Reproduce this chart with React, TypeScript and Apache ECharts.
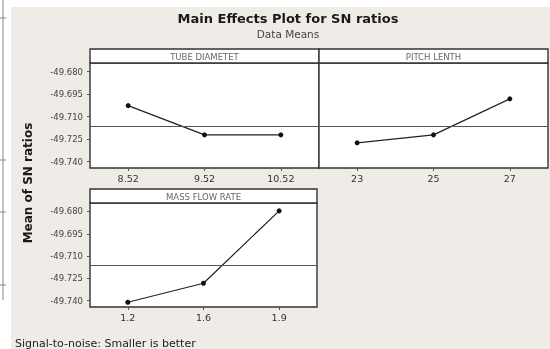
import React, { useEffect, useRef } from "react";
import * as echarts from "echarts";

const panelTitles = ["TUBE DIAMETET", "PITCH LENTH", "MASS FLOW RATE"];
const tubeDiameter = ["8.52", "9.52", "10.52"];
const pitchLength = ["23", "25", "27"];
const massFlowRate = ["1.2", "1.6", "1.9"];
const tubeSN = [-49.7027, -49.7222, -49.7222];
const pitchSN = [-49.7275, -49.7222, -49.6982];
const massSN = [-49.7411, -49.7283, -49.6796];
const overallMean = -49.7162;
const yTicks = [-49.74, -49.725, -49.71, -49.695, -49.68];
const Y_MIN = -49.7443;
const Y_MAX = -49.6743;

const FONT = "DejaVu Sans";
const BORDER = "#333333";

export default function App() {
  const ref = useRef<HTMLDivElement>(null);
  useEffect(() => {
    const chart = echarts.init(ref.current!, null, { renderer: "svg" });
    const panels = [
      { left: 90, top: 63, width: 229, height: 105, cats: tubeDiameter, data: tubeSN, showY: true },
      { left: 319, top: 63, width: 229, height: 105, cats: pitchLength, data: pitchSN, showY: false },
      { left: 90, top: 203, width: 227, height: 104, cats: massFlowRate, data: massSN, showY: true },
    ];
    const grid = panels.map((p) => ({
      left: p.left,
      top: p.top,
      width: p.width,
      height: p.height,
      show: true,
      backgroundColor: "#ffffff",
      borderColor: BORDER,
      borderWidth: 1.4,
    }));
    const xAxis = panels.map((p, i) => ({
      type: "category",
      gridIndex: i,
      data: p.cats,
      boundaryGap: true,
      axisLine: { show: false },
      axisTick: { show: true, alignWithLabel: true, length: 3, lineStyle: { color: "#555" } },
      axisLabel: { fontSize: 9.5, color: "#333", margin: 5, fontFamily: FONT },
      splitLine: { show: false },
    }));
    const yAxis = panels.map((p, i) => ({
      type: "value",
      gridIndex: i,
      min: Y_MIN,
      max: Y_MAX,
      axisLine: { show: false },
      axisTick: { show: p.showY, length: 3, customValues: yTicks, lineStyle: { color: "#555" } },
      axisLabel: {
        show: p.showY,
        customValues: yTicks,
        fontSize: 8.5,
        color: "#444",
        margin: 7,
        fontFamily: FONT,
        formatter: (v: number) => v.toFixed(3),
      },
      splitLine: { show: false },
    }));
    const series = panels.map((p, i) => ({
      type: "line",
      xAxisIndex: i,
      yAxisIndex: i,
      data: p.data,
      symbol: "circle",
      symbolSize: 5,
      itemStyle: { color: "#111" },
      lineStyle: { color: "#222", width: 1.2 },
      markLine: {
        silent: true,
        symbol: "none",
        precision: 4,
        label: { show: false },
        lineStyle: { color: "#555", width: 1, type: "solid" },
        data: [{ yAxis: overallMean }],
      },
    }));
    const headers = [
      { x: 90, y: 49, w: 229, h: 14, t: panelTitles[0] },
      { x: 319, y: 49, w: 229, h: 14, t: panelTitles[1] },
      { x: 90, y: 189, w: 227, h: 14, t: panelTitles[2] },
    ];
    const graphic: any[] = [
      { type: "rect", z: -10, shape: { x: 0, y: 0, width: 550, height: 349 }, style: { fill: "#ffffff" } },
      { type: "rect", z: -9, shape: { x: 11, y: 7, width: 539, height: 342 }, style: { fill: "#efebe6" } },
      { type: "line", shape: { x1: 3, y1: 0, x2: 3, y2: 300 }, style: { stroke: "#888", lineWidth: 1 } },
      ...[18, 160, 212, 285].map((y) => ({
        type: "line",
        shape: { x1: 0, y1: y, x2: 6, y2: y },
        style: { stroke: "#888", lineWidth: 1 },
      })),
      ...headers.map((h) => ({
        type: "group",
        children: [
          { type: "rect", shape: { x: h.x, y: h.y, width: h.w, height: h.h }, style: { fill: "#ffffff", stroke: BORDER, lineWidth: 1.4 } },
          {
            type: "text",
            x: h.x + h.w / 2,
            y: h.y + h.h / 2 + 0.5,
            style: { text: h.t, fill: "#666", font: `8.5px "${FONT}"`, textAlign: "center", textVerticalAlign: "middle" },
          },
        ],
      })),
      {
        type: "text",
        x: 288,
        y: 18,
        style: { text: "Main Effects Plot for SN ratios", fill: "#1a1a1a", font: `bold 13px "${FONT}"`, textAlign: "center", textVerticalAlign: "middle" },
      },
      {
        type: "text",
        x: 288,
        y: 34,
        style: { text: "Data Means", fill: "#444", font: `10.5px "${FONT}"`, textAlign: "center", textVerticalAlign: "middle" },
      },
      {
        type: "text",
        x: 28,
        y: 183,
        rotation: Math.PI / 2,
        style: { text: "Mean of SN ratios", fill: "#1a1a1a", font: `bold 12px "${FONT}"`, textAlign: "center", textVerticalAlign: "middle" },
      },
      {
        type: "text",
        x: 15,
        y: 343,
        style: { text: "Signal-to-noise: Smaller is better", fill: "#222", font: `11px "${FONT}"`, textAlign: "left", textVerticalAlign: "middle" },
      },
    ];
    chart.setOption({
      animation: false,
      grid,
      xAxis,
      yAxis,
      series,
      graphic,
    });
    return () => chart.dispose();
  }, []);
  return <div ref={ref} style={{ position: "fixed", left: 0, top: 0, width: 550, height: 349 }} />;
}
